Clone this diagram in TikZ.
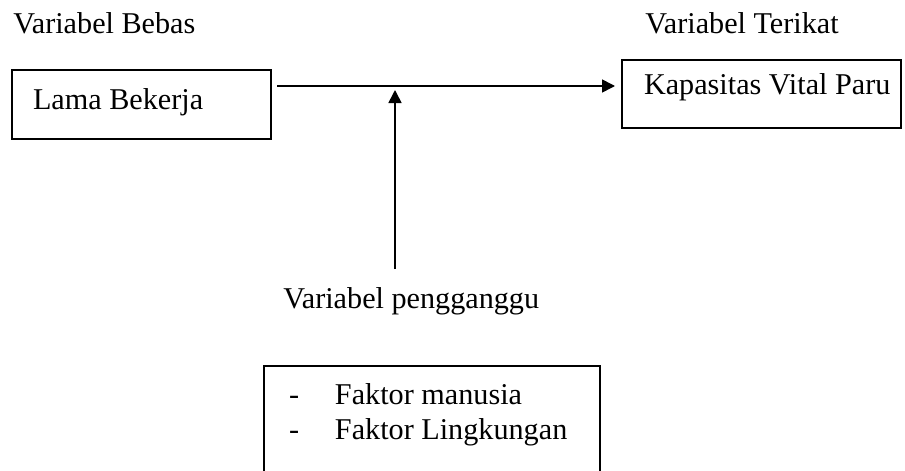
\documentclass[tikz,border=0pt]{standalone}
\usepackage{fontspec}
\setmainfont{Liberation Serif}
\usepackage{tikz}
\usetikzlibrary{
	arrows.meta,
	% positioning,
	% calc,
}
\tikzstyle{arrow} = [line width=0.8pt,-{Triangle[length=6.5pt,width=6.5pt]}]
\tikzstyle{box} = [draw, line width=1pt, rectangle, inner sep=0pt, align=left, anchor=north west]
\tikzstyle{heading} = [inner sep=0pt, anchor=base west]

\begin{document}
\begin{tikzpicture}[x=0.5pt, y=-0.5pt, font=\fontsize{15.1}{17.5}\selectfont]
	\useasboundingbox (0,0) rectangle (905,471);

	% headings
	\node[heading] (bebas) at (13,33) {Variabel Bebas};
	\node[heading] (terikat) at (645,33) {Variabel Terikat};

	% boxes
	\node[box, text height=19.5pt, text depth=15pt] (lama) at (11,69)
		{\makebox[129.5pt][l]{\hspace*{10.5pt}Lama Bekerja}};
	\node[box, text height=17pt, text depth=17pt] (kapasitas) at (621,59)
		{\makebox[139.5pt][l]{\hspace*{11pt}Kapasitas Vital Paru}};
	\node[box, text height=36.5pt, text depth=42.5pt] (faktor) at (263,365)
		{\makebox[168pt][l]{\hspace*{12.5pt}\makebox[23pt][l]{-}Faktor manusia}\\
		 \makebox[168pt][l]{\hspace*{12.5pt}\makebox[23pt][l]{-}Faktor Lingkungan}};

	% confounder
	\node[heading] (pengganggu) at (283,308) {Variabel pengganggu};

	% arrows
	\coordinate (start) at (277,86);
	\coordinate (pengaruh) at (395,90);
	\coordinate (bawah) at (395,269);
	\draw[arrow, shorten >=3pt] (start) -- (start -| kapasitas.west);
	\draw[arrow] (bawah) -- (pengaruh);

\end{tikzpicture}
\end{document}
